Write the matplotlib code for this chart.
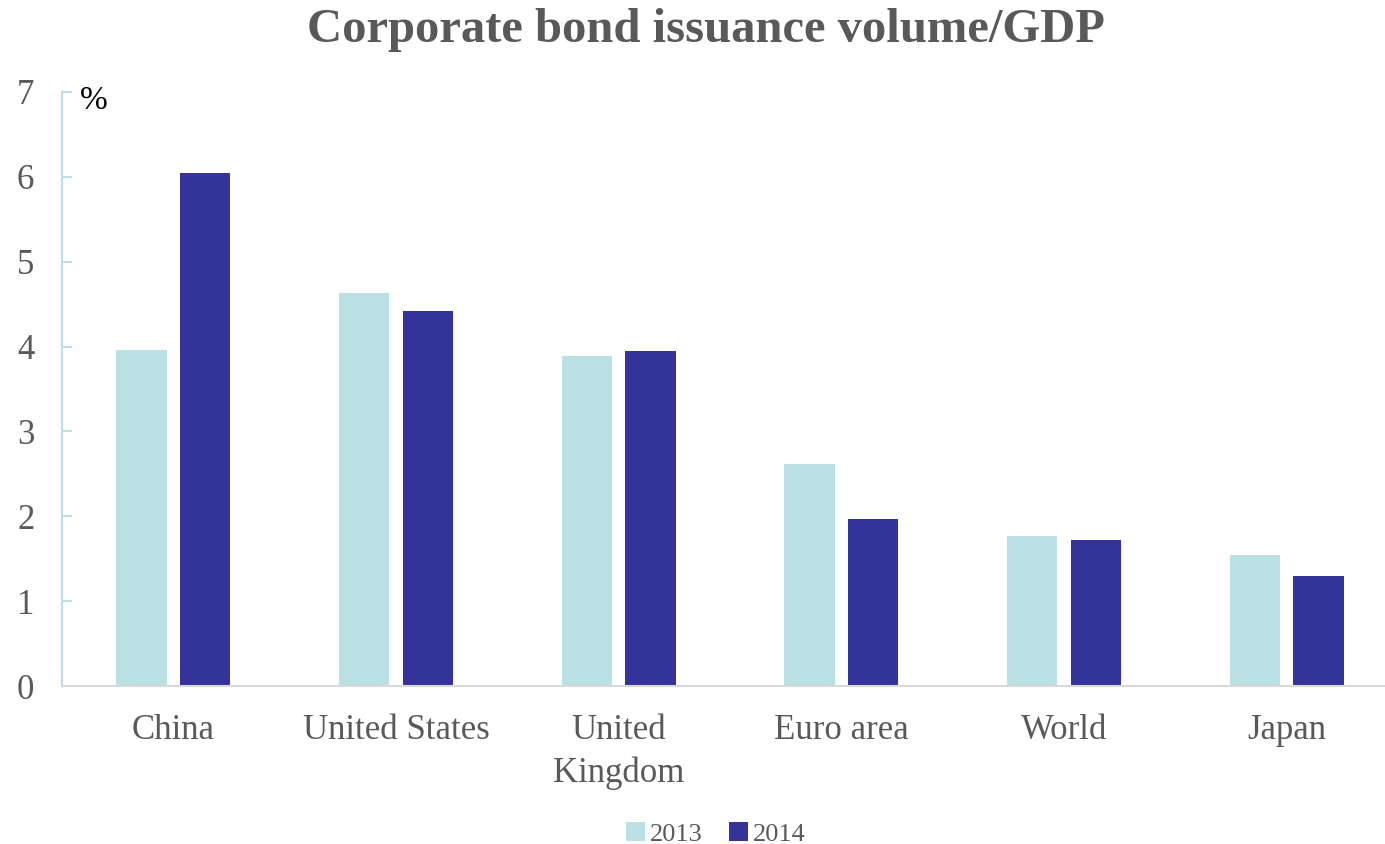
import matplotlib
matplotlib.use("Agg")
import matplotlib.pyplot as plt
import numpy as np

plt.rcParams['font.family'] = ['Liberation Serif', 'DejaVu Serif']

countries = ["China", "United States", "United\nKingdom", "Euro area", "World", "Japan"]
vol_2013 = [3.96, 4.63, 3.89, 2.62, 1.77, 1.54]
vol_2014 = [6.05, 4.42, 3.95, 1.97, 1.72, 1.30]

grey = "#595959"
light = "#bbe0e3"
dark = "#333399"

fig = plt.figure(figsize=(13.85, 8.44), dpi=100)
# plot area runs a little past the right edge of the figure
ax = fig.add_axes([0.0448, 0.1872, 0.9646, 0.7038])

x = np.arange(len(countries))
w = 0.225
ax.bar(x - 0.143, vol_2013, w, color=light, label="2013")
ax.bar(x + 0.143, vol_2014, w, color=dark, label="2014")

ax.set_xlim(-0.5, len(countries) - 0.5)
ax.set_ylim(0, 7)
ax.set_yticks(range(0, 8))
ax.set_xticks(x)
ax.set_xticklabels(countries, linespacing=1.4)

for s in ["top", "right"]:
    ax.spines[s].set_visible(False)
ax.spines["left"].set_color(light)
ax.spines["left"].set_linewidth(1.5)
ax.spines["bottom"].set_color("#d9d9d9")
ax.spines["bottom"].set_linewidth(1.5)

ax.tick_params(axis="y", direction="in", length=7, width=1.5, color=light,
               labelsize=25, labelcolor=grey, pad=20)
ax.tick_params(axis="x", length=0, labelsize=25, labelcolor=grey, pad=20)

ax.text(0.013, 0.986, "%", transform=ax.transAxes, fontsize=24, color="black",
        va="center", ha="left")

fig.suptitle("Corporate bond issuance volume/GDP", x=0.51, y=0.99,
             fontsize=35, fontweight="bold", color=grey)

fig.legend(loc="lower center", bbox_to_anchor=(0.517, -0.03), ncol=2, frameon=False,
           fontsize=19, labelcolor=grey, handlelength=0.7, handleheight=0.7,
           handletextpad=0.2, columnspacing=1.0)

fig.savefig("out.png", dpi=100)
